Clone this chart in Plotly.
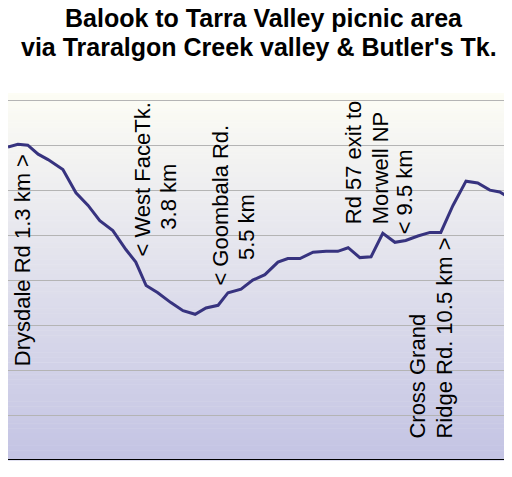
import plotly.graph_objects as go

# distance along track (km) and elevation (m), read from the profile
dist_km = [0.80, 1.02, 1.24, 1.47, 1.69, 2.02, 2.31, 2.58, 2.84, 3.13, 3.42, 3.64,
           3.87, 4.13, 4.42, 4.69, 4.96, 5.20, 5.47, 5.69, 5.98, 6.24, 6.51, 6.80,
           7.02, 7.29, 7.58, 7.87, 8.13, 8.36, 8.62, 8.87, 9.13, 9.40, 9.64, 9.91,
           10.18, 10.42, 10.69, 10.98, 11.24, 11.51, 11.73, 11.96, 12.18]
elev_m = [548, 551, 550, 540, 534, 523, 497, 483, 466, 455, 434, 420,
          394, 386, 375, 366, 362, 369, 372, 386, 390, 400, 406, 420,
          424, 424, 431, 432, 432, 436, 425, 426, 452, 442, 444, 449,
          453, 453, 483, 510, 508, 500, 498, 491, 489]

# waypoint labels: (text, km, elevation at bottom of rotated text)
labels = [
    ("Drysdale Rd 1.3 km >", 1.11, 302),
    ("< West FaceTk.", 3.80, 424),
    ("3.8 km", 4.36, 454),
    ("< Goombala Rd.", 5.53, 392),
    ("5.5 km", 6.09, 420),
    ("Rd 57 exit to", 8.47, 460),
    ("Morwell NP", 9.07, 460),
    ("< 9.5 km", 9.62, 449),
    ("Cross Grand", 9.91, 222),
    ("Ridge Rd. 10.5 km >", 10.51, 222),
]

fig = go.Figure()

# vertical gradient background
n = 150
shapes = []
for i in range(n):
    t = i / (n - 1)
    r = int(253 + (196 - 253) * t)
    g = int(253 + (196 - 253) * t)
    b = int(245 + (228 - 245) * t)
    shapes.append(dict(type="rect", xref="paper", yref="paper",
                       x0=0, x1=1, y0=1 - (i + 1.2) / n, y1=1 - i / n,
                       fillcolor=f"rgb({r},{g},{b})", line_width=0, layer="below"))

fig.add_trace(go.Scatter(x=dist_km, y=elev_m, mode="lines",
                         line=dict(color="#37337f", width=3), showlegend=False))

font = dict(family="Liberation Sans, Arial", size=22, color="black")
for text, x, y in labels:
    fig.add_annotation(x=x, y=y, text=text, textangle=-90, showarrow=False,
                       xanchor="center", yanchor="bottom", font=font)
# label running off the right edge
fig.add_annotation(x=1.0, xref="paper", y=295, text="Leave Butler's Tk.",
                   textangle=-90, showarrow=False, xanchor="left", xshift=-12,
                   yanchor="bottom", font=font)

title_font = dict(family="Liberation Sans, Arial", size=25, color="black")
fig.add_annotation(x=0.5, xref="paper", y=1, yref="paper", yshift=75,
                   text="<b>Balook to Tarra Valley picnic area</b>", showarrow=False,
                   xanchor="center", yanchor="middle", font=title_font)
fig.add_annotation(x=0.49, xref="paper", y=1, yref="paper", yshift=46,
                   text="<b>via Traralgon Creek valley & Butler's Tk.</b>", showarrow=False,
                   xanchor="center", yanchor="middle", font=title_font)

fig.update_layout(
    width=512, height=477,
    margin=dict(l=0, r=0, t=85, b=25, autoexpand=False),
    paper_bgcolor="white", plot_bgcolor="rgba(0,0,0,0)",
    shapes=shapes,
)
fig.update_xaxes(range=[0.8, 12.18], showgrid=False, showticklabels=False,
                 zeroline=False, ticks="")
fig.update_yaxes(range=[200, 608], dtick=50, tick0=200, showgrid=True,
                 gridcolor="#b4b4b4", gridwidth=1, showticklabels=False,
                 zeroline=False, showline=False)
fig.add_hline(y=200, line=dict(color="black", width=2))

fig.write_html("out.html")
